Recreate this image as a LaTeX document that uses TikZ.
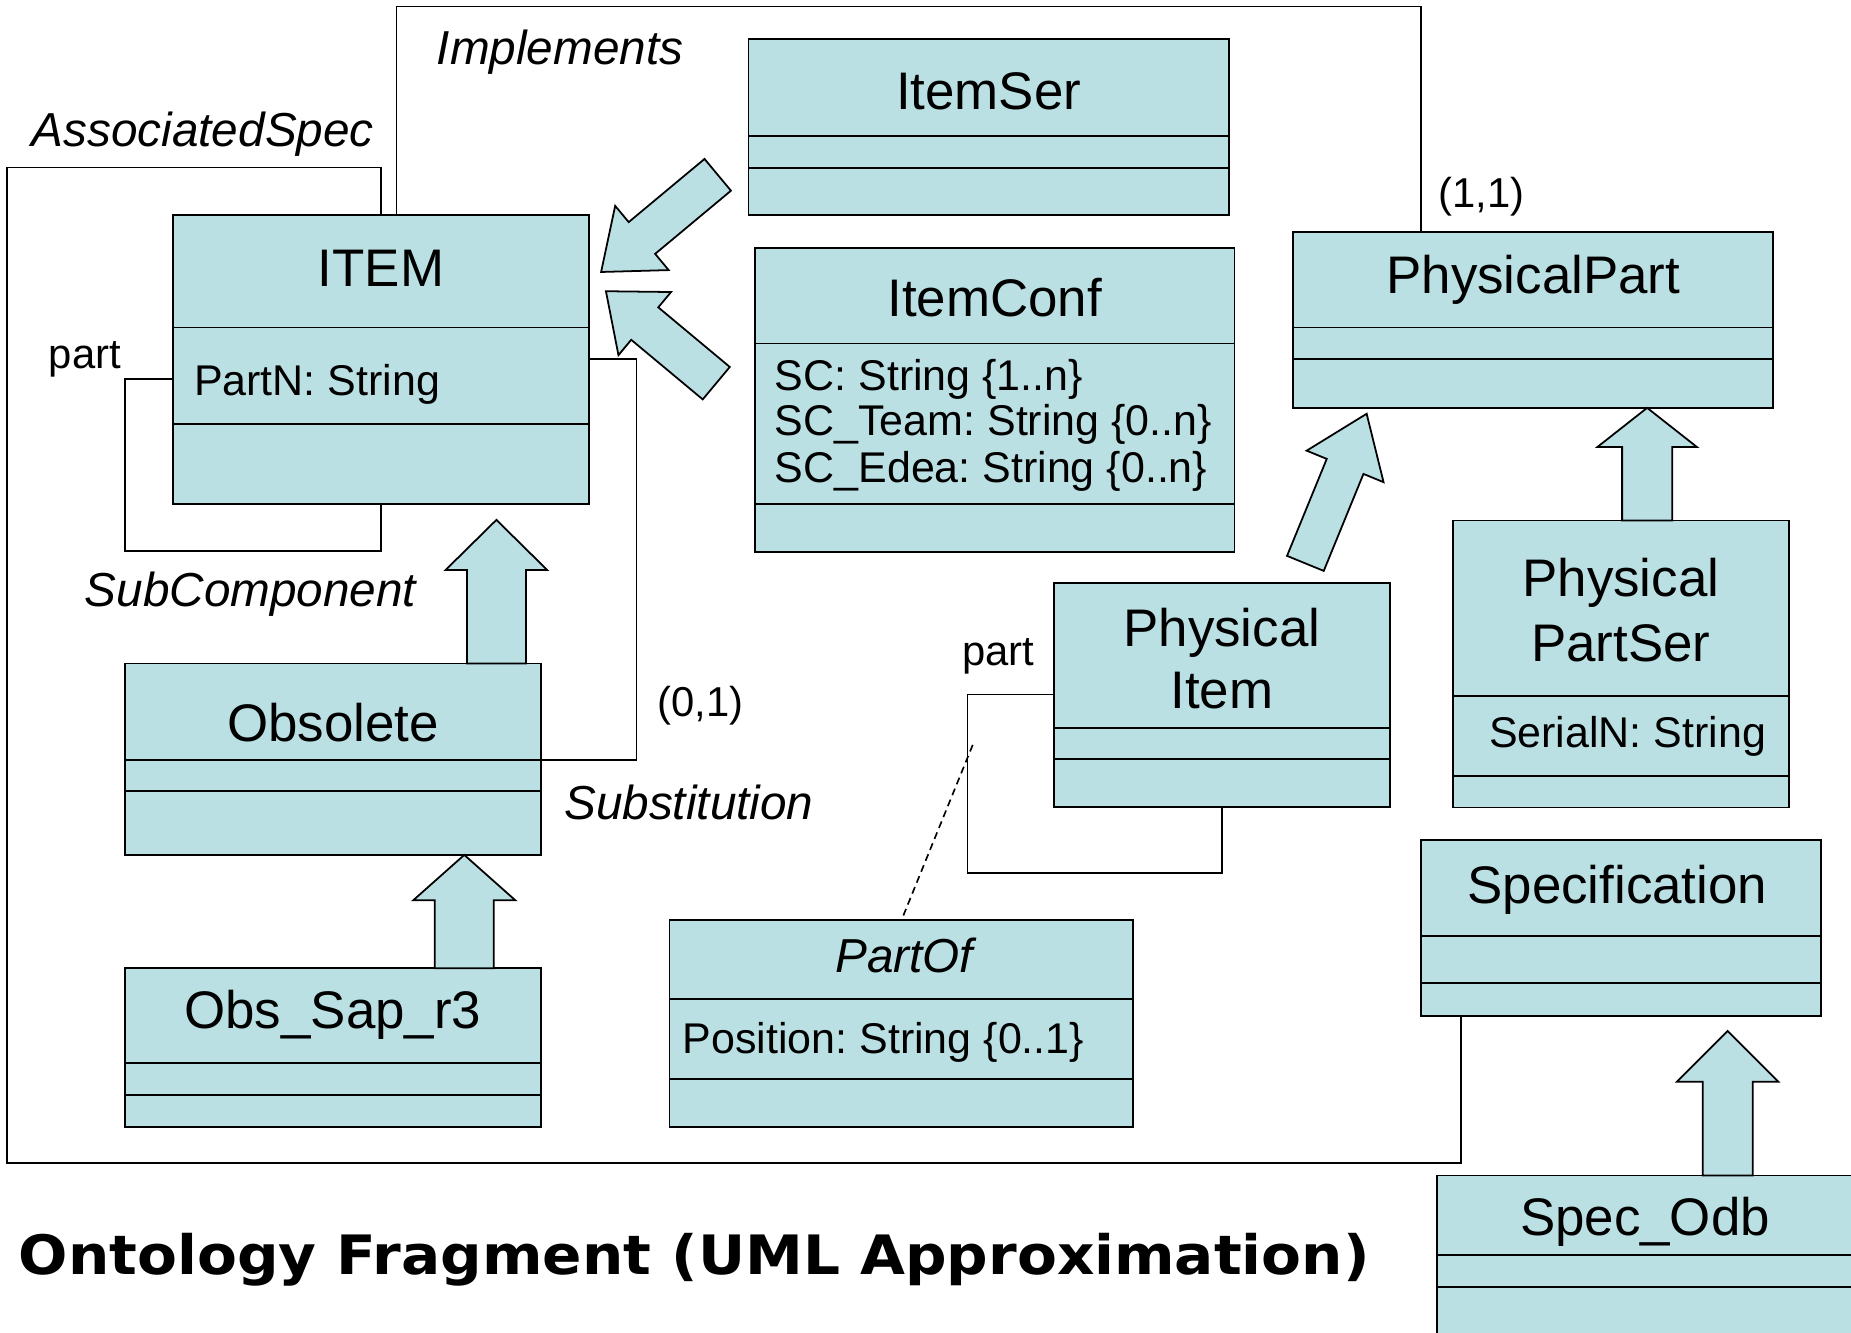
\documentclass[tikz,border=0pt]{standalone}
\usepackage{graphicx}
\usepackage{fontspec}
\setmainfont{Liberation Sans}
\newfontfamily\titlefont{DejaVu Sans}
\usetikzlibrary{calc,fit}
\definecolor{umlfill}{RGB}{187,224,227}
\frenchspacing

\tikzset{
  x=0.5pt, y=-0.5pt,
  classbox/.style={draw, fill=umlfill, line width=0.75pt, inner sep=0pt, outer sep=0pt, rectangle},
  divider/.style={line width=0.75pt},
  link/.style={line width=0.7pt},
  cname/.style={anchor=base, inner sep=0pt, font=\fontsize{22.4}{26}\selectfont},
  cnameit/.style={anchor=base, inner sep=0pt, font=\itshape\fontsize{20.2}{24}\selectfont},
  attr/.style={anchor=base west, inner sep=0pt, font=\fontsize{18.2}{21}\selectfont},
  rolelabel/.style={anchor=base west, inner sep=0pt, font=\itshape\fontsize{20.2}{24}\selectfont},
  mult/.style={anchor=base west, inner sep=0pt, font=\fontsize{17.7}{21}\selectfont},
  fatarrow/.style={draw, fill=umlfill, line width=0.75pt, line join=miter},
}

% class rectangle spanning two corners
\newcommand\umlclass[5]{%
  \path (#2,#3) coordinate (#1-nw) (#4,#5) coordinate (#1-se);
  \node[classbox, fit=(#1-nw)(#1-se)] (#1) {};
}
% horizontal compartment line of a class at height #2
\newcommand\umlsep[2]{%
  \draw[divider] (#1-nw |- 0,#2) -- (#1-se |- 0,#2);
}
% block arrow: tail, tip, shaft half width, head half width, head length
\newcommand\fatarrow[5]{%
  \coordinate (fa-h) at ($#2!#5!#1$);
  \draw[fatarrow] ($#1!#3!90:#2$) -- ($(fa-h)!#3!90:#2$) -- ($(fa-h)!#4!90:#2$)
    -- #2 -- ($(fa-h)!#4!-90:#2$) -- ($(fa-h)!#3!-90:#2$) -- ($#1!#3!-90:#2$) -- cycle;
}

\begin{document}
\begin{tikzpicture}
\useasboundingbox (0,0) rectangle (1568,1129);
\clip (0,0) rectangle (1568,1129);

% ---------- classes ----------
\umlclass{item}{146.6}{182.4}{499}{427}
\umlsep{item}{277.4}\umlsep{item}{359}
\node[cname] (itemname) at (322.8,243) {ITEM};
\node[attr] (itemattr) at (164,335) {PartN: String};

\umlclass{itemser}{634}{33.2}{1040.8}{182.4}
\umlsep{itemser}{115}\umlsep{itemser}{142}
\node[cname] (itemsername) at (837.5,92.5) {ItemSer};

\umlclass{itemconf}{639.6}{210}{1045.7}{467.7}
\umlsep{itemconf}{290.9}\umlsep{itemconf}{427}
\node[cname] (itemconfname) at (842.7,268) {ItemConf};
\node[attr] (sc1) at (656,330.7) {SC: String \{1..n\}};
\node[attr] (sc2) at (656,369) {SC\_Team: String \{0..n\}};
\node[attr] (sc3) at (656,409) {SC\_Edea: String \{0..n\}};

\umlclass{physpart}{1095.5}{196.6}{1502.2}{345.5}
\umlsep{physpart}{277.4}\umlsep{physpart}{304}
\node[cname] (physpartname) at (1298.9,248.5) {PhysicalPart};

\umlclass{physitem}{893.1}{494}{1177.2}{683.3}
\umlsep{physitem}{616.4}\umlsep{physitem}{642.7}
\node[cname] (physitemname1) at (1035,547.5) {Physical};
\node[cname] (physitemname2) at (1035,600) {Item};

\umlclass{physpartser}{1231}{441}{1515.2}{684}
\umlsep{physpartser}{589.3}\umlsep{physpartser}{657.4}
\node[cname] (ppsname1) at (1373,505.7) {Physical};
\node[cname] (ppsname2) at (1373,560) {PartSer};
\node[attr] (ppsattr) at (1261,633) {SerialN: String};

\umlclass{spec}{1203.9}{711.7}{1542.3}{860.4}
\umlsep{spec}{792.7}\umlsep{spec}{832.8}
\node[cname] (specname) at (1370,765) {Specification};

\umlclass{specodb}{1217.2}{995.7}{1572}{1140}
\umlsep{specodb}{1063.4}\umlsep{specodb}{1090.5}
\node[cname] (specodbname) at (1393.5,1046.5) {Spec\_Odb};

\umlclass{obsolete}{105.7}{562.1}{458.3}{724.2}
\umlsep{obsolete}{643.6}\umlsep{obsolete}{669.9}
\node[cname] (obsname) at (282,628) {Obsolete};

\umlclass{obssap}{105.7}{820.3}{458.3}{954.8}
\umlsep{obssap}{900.5}\umlsep{obssap}{927.6}
\node[cname] (obssapname) at (282,871) {Obs\_Sap\_r3};

\umlclass{partof}{567.2}{779.3}{959.6}{954.8}
\umlsep{partof}{846.2}\umlsep{partof}{914.2}
\node[cnameit] (partofname) at (766,824) {PartOf};
\node[attr] (partofattr) at (578,892) {Position: String \{0..1\}};

% ---------- associations ----------
\draw[link] (item.north -| 336,0) -- (336,5.6) -- (1203.7,5.6) -- (physpart.north -| 1203.7,0);
\draw[link] (item.north -| 323,0) -- (323,142) -- (6.2,142) -- (6.2,985.3)
  -- (1237.4,985.3) -- (spec.south -| 1237.4,0);
\draw[link] (item.west |- 0,321.3) -- (106,321.3) -- (106,467) -- (323,467) -- (item.south -| 323,0);
\draw[link] (item.east |- 0,304) -- (539.2,304) -- (539.2,643.6) -- (obsolete.east |- 0,643.6);
\draw[link] (physitem.west |- 0,588.4) -- (819.7,588.4) -- (819.7,739.6)
  -- (1035.1,739.6) -- (physitem.south -| 1035.1,0);
\coordinate (loopmid) at (824,631);
\draw[link, dash pattern=on 3pt off 2pt] (loopmid) -- (partof.north -| 763.7,0);

% ---------- block arrows ----------
\coordinate (a1tail) at (608,148.1);
\coordinate (a1tip) at (509.2,230.4);
\fatarrow{(a1tail)}{(a1tip)}{8.75pt}{17.7pt}{22.5pt}

\coordinate (a2tail) at (606.75,324.6);
\coordinate (a2tip) at (513.3,246.7);
\fatarrow{(a2tail)}{(a2tip)}{8.95pt}{17.4pt}{21.4pt}

\coordinate (a3tail) at (1105.8,477.25);
\coordinate (a3tip) at (1157.7,350.5);
\fatarrow{(a3tail)}{(a3tip)}{8.4pt}{17.6pt}{24.1pt}

\coordinate (g1tip) at (420.5,440.4);
\fatarrow{(obsolete.north -| g1tip)}{(g1tip)}{12.5pt}{21.5pt}{21.2pt}

\fatarrow{(obssap.north -| 393.3,0)}{(obsolete.south -| 393.3,0)}{12.5pt}{21.6pt}{19.2pt}

\fatarrow{(physpartser.north -| 1395.3,0)}{(physpart.south -| 1395.3,0)}{10.6pt}{21.1pt}{16.6pt}

\coordinate (g4tip) at (1463.5,873.3);
\fatarrow{(specodb.north -| g4tip)}{(g4tip)}{10.6pt}{21.5pt}{21.5pt}

% ---------- labels ----------
\node[rolelabel] (lblimpl) at (369.6,54.9) {Implements};
\node[rolelabel] (lblassoc) at (26.5,123.8) {AssociatedSpec};
\node[rolelabel] (lblsubc) at (71.5,514) {SubComponent};
\node[rolelabel] (lblsubst) at (477.6,694) {Substitution};
\node[mult] (m01) at (556.6,607) {(0,1)};
\node[mult] (m11) at (1218,175.5) {(1,1)};
\node[mult] (part1) at (41,312) {part};
\node[mult] (part2) at (814.7,564) {part};

\node[anchor=base west, inner sep=0pt] (title) at (15.5,1080)
  {\scalebox{1.07}[1]{\titlefont\bfseries\fontsize{23}{28}\selectfont Ontology Fragment (UML Approximation)}};
\end{tikzpicture}
\end{document}
